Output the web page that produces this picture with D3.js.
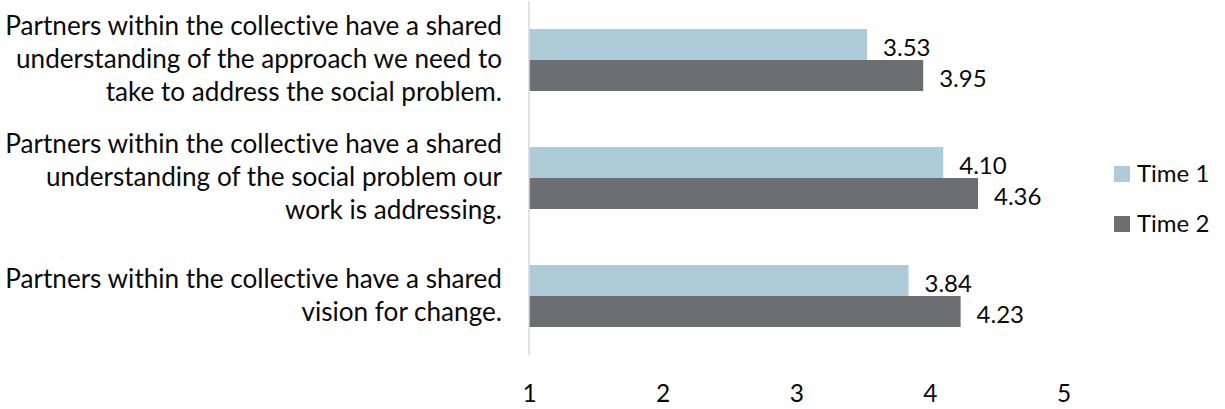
<!DOCTYPE html>
<html>
<head>
<meta charset="utf-8">
<script src="https://cdn.jsdelivr.net/npm/d3@7"></script>
<style>
  html, body { margin: 0; padding: 0; background: #fff; }
  svg { display: block; }
  text { font-family: Lato, "Open Sans", sans-serif; fill: #0a0a0a; font-variant-ligatures: none; }
</style>
</head>
<body>
<svg id="chart" width="1225" height="409"></svg>
<script>
// ---- data ----
const categories = [
  ["Partners within the collective have a shared", "understanding of the approach we need to", "take to address the social problem."],
  ["Partners within the collective have a shared", "understanding of the social problem our", "work is addressing."],
  ["Partners within the collective have a shared", "vision for change."]
];
const seriesNames = ["Time 1", "Time 2"];
const time1 = [3.53, 4.10, 3.84];
const time2 = [3.95, 4.36, 4.23];
const tickValues = [1, 2, 3, 4, 5];
const colors = ["#AECCD8", "#6D6E72"];

// ---- layout ----
const svg = d3.select("#chart");
const x0 = 529, x1 = 1063.5;
const yTop = 1, yBot = 355;

const x = d3.scaleLinear().domain([1, 5]).range([x0, x1]);
const y = d3.scaleBand().domain(d3.range(categories.length)).range([yTop, yBot]).paddingInner(0).paddingOuter(0);
const barH = 31;
const sub = d3.scaleBand().domain(d3.range(seriesNames.length)).range([0, barH * 2]);

const series = [time1, time2];

// bars
series.forEach((vals, si) => {
  svg.append("g").selectAll("rect").data(vals).join("rect")
    .attr("x", x(1))
    .attr("y", (d, i) => y(i) + y.bandwidth() / 2 - barH + sub(si))
    .attr("width", d => x(d) - x(1))
    .attr("height", sub.bandwidth())
    .attr("fill", colors[si]);
});

// value labels
series.forEach((vals, si) => {
  svg.append("g").selectAll("text").data(vals).join("text")
    .attr("x", d => x(d) + 16)
    .attr("y", (d, i) => y(i) + y.bandwidth() / 2 - barH + sub(si) + sub.bandwidth() / 2 + 11)
    .attr("font-size", 24)
    .text(d => d.toFixed(2));
});

// vertical axis line
svg.append("line")
  .attr("x1", x(1)).attr("x2", x(1))
  .attr("y1", yTop).attr("y2", yBot)
  .attr("stroke", "#D9D9D9").attr("stroke-width", 1.5);

// x axis tick labels
const xAxis = d3.axisBottom(x).tickValues(tickValues).tickFormat(d3.format("d")).tickSize(0).tickPadding(0);
const gx = svg.append("g").attr("transform", `translate(0, ${yBot})`).call(xAxis);
gx.select(".domain").remove();
gx.attr("font-size", null).attr("font-family", null);
gx.selectAll("text")
  .attr("font-size", 24.5)
  .attr("fill", "#0a0a0a")
  .attr("dy", 0)
  .attr("y", 47);

// category labels
const lineGap = 33;
const catG = svg.append("g");
categories.forEach((lines, ci) => {
  const cy = y(ci) + y.bandwidth() / 2;
  const mid = (lines.length - 1) / 2;
  lines.forEach((ln, li) => {
    catG.append("text")
      .attr("x", 502)
      .attr("y", cy + 8 + (li - mid) * lineGap)
      .attr("text-anchor", "end")
      .attr("font-size", 24)
      .text(ln);
  });
});
// fit label font so widest line spans the reference width (~497px)
let maxW = 0;
catG.selectAll("text").each(function () { maxW = Math.max(maxW, this.getComputedTextLength()); });
if (maxW > 0) {
  catG.selectAll("text").attr("font-size", 24 * 497 / maxW);
}

// legend
const leg = svg.append("g");
seriesNames.forEach((name, i) => {
  const ly = 166 + i * 50;
  leg.append("rect").attr("x", 1114).attr("y", ly).attr("width", 16).attr("height", 16).attr("fill", colors[i]);
  leg.append("text").attr("x", 1137).attr("y", ly + 16).attr("font-size", 24).text(name);
});
</script>
</body>
</html>
